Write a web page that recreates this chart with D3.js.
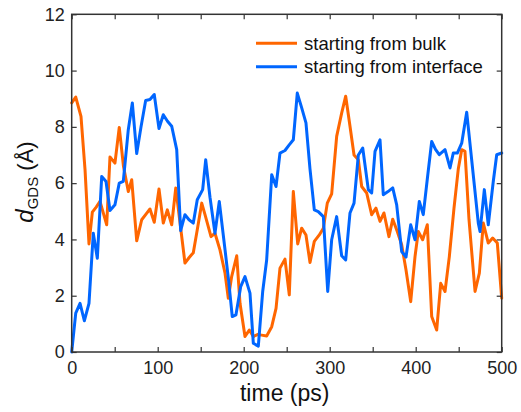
<!DOCTYPE html>
<html lang="en">
<head>
  <meta charset="UTF-8">
  <title>d_GDS vs time</title>
  <script src="https://d3js.org/d3.v7.min.js"></script>
  <style>
    body { margin: 0; background: #fff; }
    svg { display: block; font-family: "Liberation Sans", Arial, sans-serif; }
    .axis text { font-size: 18px; fill: #222; }
    .axis line { stroke: #333; stroke-width: 1.2; }
    .frame { fill: none; stroke: #333; stroke-width: 1.5; }
    .series { fill: none; stroke-width: 3; stroke-linejoin: round; stroke-linecap: round; }
    .legend text { font-size: 18.5px; fill: #111; }
  </style>
</head>
<body>
<svg width="521" height="412"></svg>
<script>
  // time (ps) and d_GDS (Å)
  const bulkTime = [0, 4.7, 10.8, 15.5, 20.1, 24, 28.5, 32.9, 40.7, 44.5, 50.3, 55.3, 60.2, 65.8, 69.8, 75.6, 81.4, 86.4,
    91, 96, 101.5, 106.5, 111.2, 116.3, 121, 131.7, 136.4, 141.4, 146.3, 151.2, 155, 162, 166.6, 172.4, 178.3, 182.1,
    186, 191.9, 195.7, 201.5, 206.5, 211.2, 216, 220.9, 226.7, 232.6, 237.6, 242.2, 248, 253, 257.7, 262.8, 267.4,
    272.4, 277.1, 282.1, 287.9, 292.6, 297.2, 302.3, 308.1, 313.9, 318.6, 323.6, 328.3, 333.3, 337.2, 343, 348.8,
    353.8, 358.5, 363.1, 368.9, 373.3, 378.6, 383.7, 388.7, 394.2, 399.2, 403, 408.1, 413.5, 418.6, 424.4, 429.1,
    434.1, 439.1, 444.5, 449.5, 453.5, 457.3, 462, 469, 474, 478.6, 484.4, 489.5, 494.9, 500];
  const bulkD = [8.85, 9.06, 8.37, 6.48, 3.84, 4.97, 5.15, 5.35, 4.52, 6.93, 6.71, 7.98, 6.6, 5.7, 6.12, 3.95, 4.7, 4.9,
    5.08, 4.61, 5.79, 4.58, 5.05, 4.52, 5.83, 3.16, 3.35, 3.53, 4.4, 5.29, 4.88, 4.1, 4.22, 3.63, 2.8, 1.91,
    2.68, 3.42, 1.73, 0.55, 0.78, 0.55, 0.62, 0.6, 0.57, 0.9, 1.55, 2.98, 3.3, 2.03, 5.7, 3.84, 4.4,
    4.16, 3.18, 3.93, 4.16, 4.4, 5.29, 5.62, 7.66, 8.49, 9.09, 8.02, 7.0, 6.83, 5.88, 5.65, 4.88,
    5.11, 4.64, 4.94, 4.1, 4.72, 4.28, 3.81, 2.92, 1.79, 3.39, 4.28, 3.99, 4.52, 1.26, 0.78, 2.44,
    2.15, 3.39, 5.1, 6.5, 7.19, 7.13, 4.7, 2.15, 2.8, 4.58, 3.87, 4.05, 3.87, 1.91];

  const ifaceTime = [0, 4.7, 9.7, 14.7, 20.1, 25.1, 29.8, 34.9, 39.9, 44.5, 50.3, 55.3, 60, 65.8, 70.5, 75.6, 80.6, 86,
    91, 96, 101.5, 106.5, 111.4, 116.3, 122.1, 126.7, 131.7, 136.4, 141.4, 146, 152.3, 155.8, 160.8, 166.6, 171.6,
    178.3, 182.6, 186.7, 191, 196.5, 201.5, 207.3, 211.2, 217, 222.1, 226.7, 232.6, 237.6, 242.2, 248, 252.7,
    257.7, 262.3, 267.2, 272.4, 277.1, 282.1, 286.7, 292.6, 297.7, 302.3, 308.1, 313.9, 318.6, 323.6, 328.3,
    333.3, 338.4, 344.9, 348.8, 352.7, 358.5, 362.3, 367.8, 373.3, 377.9, 383.7, 388.7, 394.2, 399.2, 404.2,
    408.8, 413.7, 418.6, 423, 427.4, 434.1, 439.9, 443.7, 448.4, 453.5, 459.3, 472.8, 474.8, 479.8, 484.4,
    490.2, 494.2, 500];
  const ifaceD = [0, 1.38, 1.73, 1.11, 1.73, 4.22, 3.33, 6.24, 6.06, 5.03, 5.23, 6.0, 6.06, 7.9, 8.85, 7.05, 8.0, 8.94,
    8.97, 9.15, 7.94, 8.43, 8.2, 8.02, 7.19, 4.31, 4.88, 4.7, 4.58, 5.41, 5.77, 6.83, 5.5, 4.22, 5.35,
    3.63, 2.5, 1.26, 1.32, 2.32, 2.68, 2.09, 0.31, 0.21, 2.15, 3.27, 6.3, 5.88, 7.07, 7.16, 7.35,
    7.54, 9.2, 8.7, 8.14, 6.5, 5.05, 4.99, 4.81, 2.15, 3.99, 4.81, 3.42, 3.27, 4.94, 5.29,
    7.0, 7.25, 5.77, 5.65, 7.13, 7.54, 5.59, 5.7, 5.83, 5.23, 3.57, 3.37, 4.52, 3.99, 5.35,
    4.88, 6.2, 7.48, 7.2, 7.01, 7.19, 6.54, 7.07, 7.07, 7.42, 8.52, 4.58, 4.28, 5.77, 4.52,
    6.06, 7.01, 7.07];

  const seriesNames = ["starting from bulk", "starting from interface"];
  const seriesColors = ["#ff6600", "#0066ff"];
  const xTicks = [0, 50, 100, 150, 200, 250, 300, 350, 400, 450, 500];
  const yTicks = [0, 2, 4, 6, 8, 10, 12];

  const series = [
    {name: seriesNames[0], color: seriesColors[0], pts: bulkTime.map((t, i) => [t, bulkD[i]])},
    {name: seriesNames[1], color: seriesColors[1], pts: ifaceTime.map((t, i) => [t, ifaceD[i]])}
  ];

  const plot = {left: 71.7, right: 501.7, top: 14.3, bottom: 352};

  const svg = d3.select("svg");
  const x = d3.scaleLinear().domain([0, 500]).range([plot.left, plot.right]);
  const y = d3.scaleLinear().domain([0, 12]).range([plot.bottom, plot.top]);

  const line = d3.line().x(d => x(d[0])).y(d => y(d[1]));

  svg.selectAll(".series")
    .data(series)
    .join("path")
    .attr("class", "series")
    .attr("stroke", d => d.color)
    .attr("d", d => line(d.pts));

  // inward ticks on all four sides
  const fmtX = d => d % 100 === 0 ? d : "";
  svg.append("g").attr("class", "axis")
    .attr("transform", `translate(0,${plot.bottom})`)
    .call(d3.axisBottom(x).tickValues(xTicks).tickFormat(fmtX).tickSizeInner(-5).tickSizeOuter(0).tickPadding(9))
    .call(g => g.select(".domain").remove());
  svg.append("g").attr("class", "axis")
    .attr("transform", `translate(0,${plot.top})`)
    .call(d3.axisTop(x).tickValues(xTicks).tickFormat("").tickSizeInner(-5).tickSizeOuter(0))
    .call(g => g.select(".domain").remove());
  svg.append("g").attr("class", "axis")
    .attr("transform", `translate(${plot.left},0)`)
    .call(d3.axisLeft(y).tickValues(yTicks).tickSizeInner(-5).tickSizeOuter(0).tickPadding(7))
    .call(g => g.select(".domain").remove());
  svg.append("g").attr("class", "axis")
    .attr("transform", `translate(${plot.right},0)`)
    .call(d3.axisRight(y).tickValues(yTicks).tickFormat("").tickSizeInner(-5).tickSizeOuter(0))
    .call(g => g.select(".domain").remove());

  svg.append("rect").attr("class", "frame")
    .attr("x", plot.left).attr("y", plot.top)
    .attr("width", plot.right - plot.left).attr("height", plot.bottom - plot.top);

  // axis titles
  svg.append("text")
    .attr("x", (plot.left + plot.right) / 2 - 2)
    .attr("y", 401)
    .attr("text-anchor", "middle")
    .style("font-size", "23px")
    .style("fill", "#111")
    .text("time (ps)");

  const yl = svg.append("text")
    .attr("transform", "translate(33,182) rotate(-90)")
    .attr("text-anchor", "middle")
    .style("font-size", "22px")
    .style("fill", "#111");
  yl.append("tspan").style("font-style", "italic").style("font-size", "24px").text("d");
  yl.append("tspan").attr("dy", 5).style("font-size", "15px").text("GDS");
  yl.append("tspan").attr("dy", -5).text(" (Å)");

  // legend
  const legend = svg.append("g").attr("class", "legend");
  const rows = [43.3, 66.7];
  series.forEach((s, i) => {
    legend.append("line")
      .attr("x1", 256).attr("x2", 297)
      .attr("y1", rows[i]).attr("y2", rows[i])
      .attr("stroke", s.color).attr("stroke-width", 3);
    legend.append("text")
      .attr("x", 304).attr("y", rows[i])
      .attr("dy", "0.35em")
      .text(s.name);
  });
</script>
</body>
</html>
